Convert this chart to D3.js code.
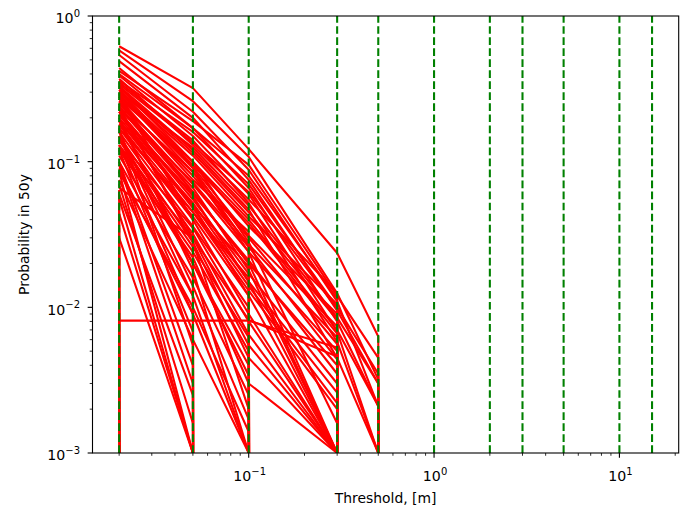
<!DOCTYPE html>
<html>
<head>
<meta charset="utf-8">
<script src="https://cdn.jsdelivr.net/npm/d3@7"></script>
<style>
  body { margin: 0; background: #fff; }
  svg text { font-family: "DejaVu Sans", sans-serif; fill: #000; }
</style>
</head>
<body>
<svg id="chart" width="683" height="510"></svg>
<script>
// Flood depth thresholds [m]
const thresholds = [0.02, 0.05, 0.1, 0.3, 0.5, 1, 2, 3, 5, 10, 15];

// Probability of exceeding each threshold in 50 years, one row per site.
// Rows list the first five thresholds; deeper thresholds are never exceeded (0).
const siteProbabilities = [
  [0.62, 0.32, 0.122, 0.0236, 0.0063],
  [0.58, 0.26, 0.108, 0.0125, 0.0032],
  [0.54, 0.22, 0.088, 0.0110, 0.0021],
  [0.49, 0.20, 0.075, 0.0095, 0.0030],
  [0.44, 0.17, 0.066, 0.0080, 0.0021],
  [0.39, 0.15, 0.060, 0.0068, 0.001],
  [0.35, 0.14, 0.052, 0.0058, 0.001],
  [0.33, 0.12, 0.047, 0.0045, 0.001],
  [0.42, 0.19, 0.095, 0.0120, 0.0045],
  [0.36, 0.16, 0.070, 0.0100, 0.0035],
  [0.30, 0.125, 0.050, 0.0085, 0.0030],
  [0.27, 0.10, 0.040, 0.0070, 0.0021],
  [0.37, 0.13, 0.055, 0.0125, 0],
  [0.31, 0.11, 0.042, 0.0105, 0],
  [0.30, 0.10, 0.036, 0.0090, 0],
  [0.28, 0.092, 0.031, 0.0074, 0],
  [0.26, 0.080, 0.027, 0.0062, 0],
  [0.25, 0.070, 0.024, 0.0050, 0],
  [0.235, 0.062, 0.020, 0.0040, 0],
  [0.22, 0.055, 0.017, 0.0030, 0],
  [0.21, 0.048, 0.014, 0.0022, 0],
  [0.40, 0.17, 0.080, 0.0115, 0],
  [0.34, 0.135, 0.062, 0.0098, 0],
  [0.32, 0.115, 0.045, 0.0082, 0],
  [0.29, 0.095, 0.038, 0.0066, 0],
  [0.25, 0.085, 0.030, 0.0056, 0],
  [0.23, 0.072, 0.026, 0.0044, 0],
  [0.21, 0.060, 0.021, 0.0035, 0],
  [0.19, 0.052, 0.015, 0.0026, 0],
  [0.17, 0.045, 0.013, 0.0020, 0],
  [0.33, 0.10, 0.028, 0.0016, 0],
  [0.066, 0.030, 0.0082, 0.0046, 0],
  [0.0081, 0.0081, 0.0081, 0.0053, 0],
  [0.29, 0.085, 0.024, 0.001, 0],
  [0.24, 0.066, 0.018, 0.001, 0],
  [0.20, 0.050, 0.012, 0.001, 0],
  [0.18, 0.040, 0.0090, 0.001, 0],
  [0.16, 0.032, 0.0065, 0.001, 0],
  [0.15, 0.028, 0.0045, 0.001, 0],
  [0.12, 0.022, 0.0030, 0.001, 0],
  [0.26, 0.062, 0.020, 0.001, 0],
  [0.22, 0.058, 0.015, 0.001, 0],
  [0.14, 0.035, 0.0080, 0.001, 0],
  [0.13, 0.030, 0.0055, 0.001, 0],
  [0.27, 0.075, 0.033, 0, 0],
  [0.19, 0.045, 0.016, 0, 0],
  [0.17, 0.036, 0.010, 0, 0],
  [0.14, 0.026, 0.0062, 0, 0],
  [0.13, 0.020, 0.0040, 0, 0],
  [0.11, 0.016, 0.0025, 0, 0],
  [0.10, 0.012, 0.001, 0, 0],
  [0.09, 0.009, 0.001, 0, 0],
  [0.075, 0.006, 0.001, 0, 0],
  [0.20, 0.018, 0.001, 0, 0],
  [0.16, 0.014, 0.0017, 0, 0],
  [0.31, 0.09, 0.026, 0, 0],
  [0.22, 0.05, 0.019, 0, 0],
  [0.18, 0.042, 0.012, 0, 0],
  [0.125, 0.024, 0.005, 0, 0],
  [0.15, 0.020, 0.0034, 0, 0],
  [0.085, 0.010, 0.0014, 0, 0],
  [0.24, 0.028, 0.002, 0, 0],
  [0.23, 0.030, 0, 0, 0],
  [0.15, 0.012, 0, 0, 0],
  [0.12, 0.0068, 0, 0, 0],
  [0.10, 0.0040, 0, 0, 0],
  [0.086, 0.001, 0, 0, 0],
  [0.056, 0.001, 0, 0, 0],
  [0.044, 0.001, 0, 0, 0],
  [0.030, 0.001, 0, 0, 0],
  [0.060, 0.0025, 0, 0, 0],
  [0.28, 0.040, 0, 0, 0],
  [0.19, 0.020, 0, 0, 0],
  [0.13, 0.0090, 0, 0, 0],
  [0.095, 0.0030, 0, 0, 0],
  [0.07, 0.0016, 0, 0, 0],
  [0.17, 0.0055, 0, 0, 0],
  [0.064, 0, 0, 0, 0],
  [0.035, 0, 0, 0, 0],
  [0.05, 0, 0, 0, 0],
  [0.025, 0, 0, 0, 0]
];

// Axis ticks and their labels (base, exponent)
const xTicks = [0.1, 1, 10];
const xTickLabels = [["10", "\u22121"], ["10", "0"], ["10", "1"]];
const yTicks = [0.001, 0.01, 0.1, 1];
const yTickLabels = [["10", "\u22123"], ["10", "\u22122"], ["10", "\u22121"], ["10", "0"]];
const yRange = [0.001, 1];

const xLabel = "Threshold, [m]";
const yLabel = "Probability in 50y";

// Plot area
const plot = { left: 92.5, top: 16, right: 678.7, bottom: 453 };

// Log x-domain padded by 5% of the data span on each side
const lo = Math.log10(d3.min(thresholds)), hi = Math.log10(d3.max(thresholds));
const pad = (hi - lo) * 0.05;
const x = d3.scaleLog().domain([10 ** (lo - pad), 10 ** (hi + pad)]).range([plot.left, plot.right]);
const y = d3.scaleLog().domain(yRange).range([plot.bottom, plot.top]);

const svg = d3.select("#chart");

svg.append("defs").append("clipPath").attr("id", "plotClip")
  .append("rect")
  .attr("x", plot.left).attr("y", plot.top)
  .attr("width", plot.right - plot.left).attr("height", plot.bottom - plot.top);

const layer = svg.append("g").attr("clip-path", "url(#plotClip)");

// A zero probability has no place on a log axis: it is pushed far below the axis,
// so the curve drops straight down from its last non-zero point.
const tiny = 1e-300;
const line = d3.line()
  .x(d => x(d.t))
  .y(d => y(d.p > 0 ? d.p : tiny));

const series = siteProbabilities.map(row =>
  thresholds.map((t, i) => ({ t, p: i < row.length ? row[i] : 0 })));

layer.selectAll("path.site")
  .data(series)
  .join("path")
  .attr("class", "site")
  .attr("d", line)
  .attr("fill", "none")
  .attr("stroke", "#ff0000")
  .attr("stroke-width", 2.08)
  .attr("stroke-linejoin", "round")
  .attr("stroke-linecap", "butt");

// Threshold markers
layer.selectAll("line.thr")
  .data(thresholds)
  .join("line")
  .attr("class", "thr")
  .attr("x1", d => x(d)).attr("x2", d => x(d))
  .attr("y1", y(yRange[0])).attr("y2", y(yRange[1]))
  .attr("stroke", "#008000")
  .attr("stroke-width", 2.08)
  .attr("stroke-dasharray", "7.7 3.33");

// Minor ticks: 2..9 within each decade
function minorTicks(scale) {
  const [a, b] = scale.domain();
  const out = [];
  for (let e = Math.floor(Math.log10(a)); e <= Math.ceil(Math.log10(b)); e++) {
    for (let m = 2; m <= 9; m++) {
      const v = m * 10 ** e;
      if (v >= a && v <= b) out.push(v);
    }
  }
  return out;
}

const axes = svg.append("g");
const majorLen = 4.86, minorLen = 2.78;

// x ticks
axes.selectAll("line.xminor").data(minorTicks(x)).join("line")
  .attr("x1", d => x(d)).attr("x2", d => x(d))
  .attr("y1", plot.bottom).attr("y2", plot.bottom + minorLen)
  .attr("stroke", "#000").attr("stroke-width", 0.83);
axes.selectAll("line.xmajor").data(xTicks).join("line")
  .attr("x1", d => x(d)).attr("x2", d => x(d))
  .attr("y1", plot.bottom).attr("y2", plot.bottom + majorLen)
  .attr("stroke", "#000").attr("stroke-width", 1.1);

// y ticks
axes.selectAll("line.yminor").data(minorTicks(y)).join("line")
  .attr("y1", d => y(d)).attr("y2", d => y(d))
  .attr("x1", plot.left).attr("x2", plot.left - minorLen)
  .attr("stroke", "#000").attr("stroke-width", 0.83);
axes.selectAll("line.ymajor").data(yTicks).join("line")
  .attr("y1", d => y(d)).attr("y2", d => y(d))
  .attr("x1", plot.left).attr("x2", plot.left - majorLen)
  .attr("stroke", "#000").attr("stroke-width", 1.1);

// Frame
axes.append("rect")
  .attr("x", plot.left).attr("y", plot.top)
  .attr("width", plot.right - plot.left).attr("height", plot.bottom - plot.top)
  .attr("fill", "none").attr("stroke", "#000").attr("stroke-width", 1.1);

// Tick labels with superscript exponents
function powerLabel(sel, [base, exp]) {
  sel.append("tspan").attr("font-size", 14.2).text(base);
  sel.append("tspan").attr("font-size", 10).attr("dy", -6.4).text(exp);
}

xTicks.forEach((v, i) => {
  const t = axes.append("text")
    .attr("x", x(v) + 1).attr("y", 481)
    .attr("text-anchor", "middle");
  powerLabel(t, xTickLabels[i]);
});

yTicks.forEach((v, i) => {
  const t = axes.append("text")
    .attr("x", 80).attr("y", y(v) + 7.4)
    .attr("text-anchor", "end");
  powerLabel(t, yTickLabels[i]);
});

// Axis titles
svg.append("text")
  .attr("x", (plot.left + plot.right) / 2).attr("y", 503)
  .attr("text-anchor", "middle").attr("font-size", 13.9)
  .text(xLabel);

svg.append("text")
  .attr("transform", `translate(29,${(plot.top + plot.bottom) / 2}) rotate(-90)`)
  .attr("text-anchor", "middle").attr("font-size", 13.9)
  .text(yLabel);
</script>
</body>
</html>
